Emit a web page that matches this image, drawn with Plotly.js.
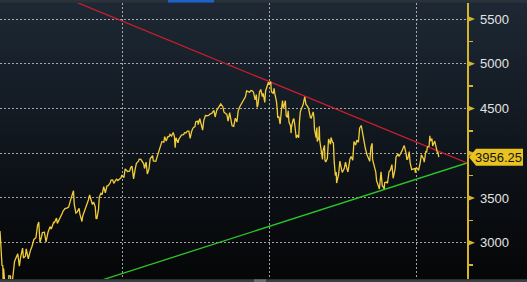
<!DOCTYPE html>
<html><head><meta charset="utf-8">
<script src="https://cdn.plot.ly/plotly-3.0.1.min.js"></script>
<style>
html,body{margin:0;padding:0;background:#000;}
#chart{width:527px;height:282px;background:linear-gradient(to bottom,#1e2935 0%,#141c25 35%,#0a0d11 75%,#050607 100%);}
</style>
</head><body><div id="chart"></div>
<script>
const dates = [
"2020-03-04","2020-03-05","2020-03-06","2020-03-09","2020-03-11","2020-03-12","2020-03-13","2020-03-16","2020-03-18","2020-03-20",
"2020-03-23","2020-03-24","2020-03-26","2020-03-30","2020-04-01","2020-04-06","2020-04-09","2020-04-14","2020-04-17","2020-04-21",
"2020-04-24","2020-04-29","2020-05-01","2020-05-06","2020-05-08","2020-05-13","2020-05-15","2020-05-19","2020-05-22","2020-05-27",
"2020-06-01","2020-06-05","2020-06-08","2020-06-11","2020-06-15","2020-06-17","2020-06-22","2020-06-26","2020-07-01","2020-07-06",
"2020-07-09","2020-07-15","2020-07-17","2020-07-22","2020-07-24","2020-07-29","2020-07-31","2020-08-05","2020-08-07","2020-08-12",
"2020-08-18","2020-08-21","2020-08-26","2020-08-28","2020-09-02","2020-09-04","2020-09-08","2020-09-11","2020-09-16","2020-09-18",
"2020-09-23","2020-09-25","2020-09-30","2020-10-05","2020-10-09","2020-10-12","2020-10-15","2020-10-19","2020-10-22","2020-10-26",
"2020-10-28","2020-10-30","2020-11-03","2020-11-05","2020-11-09","2020-11-12","2020-11-16","2020-11-20","2020-11-24","2020-11-27",
"2020-12-02","2020-12-04","2020-12-08","2020-12-11","2020-12-16","2020-12-18","2020-12-21","2020-12-24","2020-12-29","2020-12-31",
"2021-01-05","2021-01-08","2021-01-12","2021-01-14","2021-01-19","2021-01-22","2021-01-25","2021-01-27","2021-01-29","2021-02-02",
"2021-02-05","2021-02-10","2021-02-12","2021-02-16","2021-02-19","2021-02-23","2021-02-25","2021-03-01","2021-03-04","2021-03-08",
"2021-03-11","2021-03-15","2021-03-17","2021-03-19","2021-03-23","2021-03-25","2021-03-29","2021-04-01","2021-04-06","2021-04-09",
"2021-04-14","2021-04-16","2021-04-20","2021-04-23","2021-04-27","2021-04-29","2021-05-03","2021-05-07","2021-05-10","2021-05-12",
"2021-05-14","2021-05-19","2021-05-21","2021-05-26","2021-05-28","2021-06-02","2021-06-04","2021-06-08","2021-06-11","2021-06-15",
"2021-06-18","2021-06-22","2021-06-25","2021-06-30","2021-07-02","2021-07-07","2021-07-08","2021-07-12","2021-07-16","2021-07-19",
"2021-07-22","2021-07-26","2021-07-29","2021-08-03","2021-08-06","2021-08-11","2021-08-16","2021-08-19","2021-08-23","2021-08-27",
"2021-08-31","2021-09-02","2021-09-07","2021-09-10","2021-09-14","2021-09-17","2021-09-20","2021-09-24","2021-09-28","2021-09-30",
"2021-10-04","2021-10-06","2021-10-08","2021-10-12","2021-10-15","2021-10-19","2021-10-22","2021-10-26","2021-10-29","2021-11-02",
"2021-11-05","2021-11-09","2021-11-12","2021-11-16","2021-11-19","2021-11-22","2021-11-26","2021-11-29","2021-12-01","2021-12-03",
"2021-12-07","2021-12-10","2021-12-14","2021-12-16","2021-12-20","2021-12-22","2021-12-27","2021-12-29","2021-12-31",
"2022-01-03","2022-01-04","2022-01-05","2022-01-07","2022-01-10","2022-01-12","2022-01-14","2022-01-18","2022-01-20","2022-01-21",
"2022-01-24","2022-01-26","2022-01-27","2022-01-31","2022-02-02","2022-02-04","2022-02-09","2022-02-11","2022-02-14","2022-02-16",
"2022-02-18","2022-02-22","2022-02-23","2022-02-24","2022-02-28","2022-03-02","2022-03-04","2022-03-07","2022-03-08","2022-03-11",
"2022-03-14","2022-03-16","2022-03-18","2022-03-22","2022-03-25","2022-03-29","2022-04-01","2022-04-05","2022-04-08","2022-04-12",
"2022-04-14","2022-04-19","2022-04-21","2022-04-22","2022-04-26","2022-04-28","2022-04-29","2022-05-03","2022-05-04","2022-05-05",
"2022-05-09","2022-05-11","2022-05-12","2022-05-13","2022-05-17","2022-05-18","2022-05-20","2022-05-24","2022-05-26","2022-05-27",
"2022-06-01","2022-06-02","2022-06-06","2022-06-08","2022-06-10","2022-06-13","2022-06-15","2022-06-16","2022-06-21","2022-06-24",
"2022-06-28","2022-06-30","2022-07-05","2022-07-08","2022-07-12","2022-07-14","2022-07-19","2022-07-22","2022-07-26","2022-07-29",
"2022-08-02","2022-08-05","2022-08-09","2022-08-12","2022-08-16","2022-08-19","2022-08-22","2022-08-26","2022-08-30","2022-09-01",
"2022-09-06","2022-09-09","2022-09-12","2022-09-13","2022-09-16","2022-09-21","2022-09-23","2022-09-27","2022-09-30","2022-10-04",
"2022-10-07","2022-10-12","2022-10-13","2022-10-17","2022-10-20","2022-10-24","2022-10-27","2022-10-31","2022-11-03","2022-11-08",
"2022-11-10","2022-11-15","2022-11-18","2022-11-22","2022-11-25","2022-11-30","2022-12-01","2022-12-05","2022-12-07","2022-12-09",
"2022-12-13","2022-12-15","2022-12-19","2022-12-22","2022-12-27","2022-12-28","2022-12-30",
"2023-01-03","2023-01-05","2023-01-09","2023-01-12","2023-01-18","2023-01-19","2023-01-23","2023-01-25","2023-01-27","2023-01-31",
"2023-02-02","2023-02-03","2023-02-07","2023-02-09","2023-02-14","2023-02-16","2023-02-21","2023-02-22","2023-02-24"
];
const prices = [
3130,3023,2972,2746,2741,2480,2711,2386,2398,2305,
2237,2447,2630,2627,2470,2664,2790,2846,2875,2737,
2837,2939,2830,2848,2930,2820,2864,2922,2955,3036,
3055,3194,3232,3002,3067,3113,3117,3009,3116,3179,
3152,3227,3225,3276,3216,3258,3271,3327,3351,3380,
3389,3397,3478,3508,3580,3427,3331,3341,3385,3319,
3237,3298,3363,3408,3477,3534,3483,3427,3453,3400,
3271,3270,3369,3510,3550,3537,3626,3557,3635,3638,
3669,3699,3702,3663,3701,3709,3694,3703,3727,3756,
3727,3825,3801,3796,3799,3841,3855,3751,3714,3826,
3887,3910,3934,3932,3907,3881,3829,3901,3768,3821,
3939,3969,3974,3913,3910,3909,3971,4020,4074,4129,
4124,4185,4135,4180,4187,4211,4192,4232,4189,4063,
4173,4116,4156,4195,4204,4208,4230,4227,4247,4246,
4166,4246,4281,4298,4352,4358,4320,4385,4327,4258,
4368,4422,4419,4423,4437,4447,4479,4405,4479,4509,
4523,4550,4520,4458,4443,4433,4358,4455,4353,4307,
4300,4363,4391,4350,4471,4520,4545,4574,4605,4630,
4697,4685,4682,4701,4698,4682,4595,4655,4513,4538,
4686,4712,4634,4668,4568,4696,4791,4793,4766,
4796,4793,4700,4677,4670,4726,4663,4577,4483,4398,
4410,4350,4326,4516,4589,4500,4587,4419,4401,4475,
4349,4305,4225,4288,4374,4387,4329,4201,4170,4204,
4173,4358,4463,4512,4543,4631,4545,4525,4488,4397,
4392,4462,4393,4272,4175,4287,4132,4175,4300,4147,
3991,3935,3930,4023,4088,3923,3901,3941,4057,4158,
4101,4176,4121,4116,3900,3750,3790,3667,3765,3912,
3821,3785,3831,3899,3819,3790,3937,3962,3921,4130,
4091,4145,4122,4280,4310,4228,4138,4058,3986,3967,
3909,4067,4110,3932,3873,3790,3693,3648,3600,3791,
3640,3602,3670,3677,3665,3798,3807,3872,3720,3828,
3956,3992,3965,4003,4026,4085,4076,3999,3933,3934,
4019,3895,3817,3822,3829,3783,3840,
3824,3808,3892,3983,3929,3899,4019,4016,4070,4077,
4195,4136,4164,4081,4136,4090,3997,4012,3956.25
];
const trendDates = ["2020-03-04","2023-05-05"];
const upperTrend = [6039, 3891];
const lowerTrend = [2217, 3891];
const xRange = ["2020-03-04","2023-05-05"];
const yRange = [2594, 5679];
const yTicks = [3000,3500,4000,4500,5000,5500];
// the 4000 label sits under the last-price tag in the reference
const yTickText = ["3000","3500","","4500","5000","5500"];
const yMinor = [2750,3250,3750,4250,4750,5250];
const xGrid = ["2021-01-01","2022-01-01","2023-01-01"];

const lastPrice = prices[prices.length-1];
const axisYellow = '#d6b52a';
const plotW = 527 - 60;
const px = 1/plotW;
const dataPerPx = (yRange[1]-yRange[0]) / (282-6);

const shapes = [];
yTicks.forEach(v => {
  const h = 3.2*dataPerPx;
  shapes.push({type:'path', xref:'paper', yref:'y', layer:'above',
    path:`M 1,${v+h} L ${1+8*px},${v} L 1,${v-h} Z`,
    fillcolor:axisYellow, line:{width:0}});
});
{
  const h = 8.5*dataPerPx;
  shapes.push({type:'path', xref:'paper', yref:'y', layer:'above',
    path:`M ${1+2*px},${lastPrice} L ${1+9*px},${lastPrice+h} L ${1+56*px},${lastPrice+h} L ${1+56*px},${lastPrice-h} L ${1+9*px},${lastPrice-h} Z`,
    fillcolor:'#e9c420', line:{width:0}});
}
const pyPx = 1/(282-6);
shapes.push({type:'rect', xref:'paper', yref:'paper', layer:'above', x0:0, x1:527*px, y0:1+0.6*pyPx, y1:1+3*pyPx, fillcolor:'#2c323a', line:{width:0}});
shapes.push({type:'rect', xref:'paper', yref:'paper', layer:'above', x0:168*px, x1:214*px, y0:1+0.6*pyPx, y1:1+3*pyPx, fillcolor:'#1f62c9', line:{width:0}});
shapes.push({type:'rect', xref:'paper', yref:'paper', layer:'above', x0:0, x1:527*px, y0:-3*pyPx, y1:-0.3*pyPx, fillcolor:'#3a3f45', line:{width:0}});
shapes.push({type:'rect', xref:'paper', yref:'paper', layer:'above', x0:254*px, x1:266*px, y0:-3*pyPx, y1:-0.3*pyPx, fillcolor:'#6a6e72', line:{width:0}});

const traces = [
  {x:trendDates, y:lowerTrend, type:'scatter', mode:'lines', line:{color:'#2bc42b', width:1.3}, hoverinfo:'skip'},
  {x:trendDates, y:upperTrend, type:'scatter', mode:'lines', line:{color:'#c81e2c', width:1.3}, hoverinfo:'skip'},
  {x:dates, y:prices, type:'scatter', mode:'lines', line:{color:'#f2cd3a', width:1.3}, hoverinfo:'skip'}
];

const layout = {
  width:527, height:282,
  margin:{l:0, r:60, t:3, b:3, pad:0},
  paper_bgcolor:'rgba(0,0,0,0)', plot_bgcolor:'rgba(0,0,0,0)',
  showlegend:false,
  xaxis:{type:'date', range:xRange, tickvals:xGrid, showticklabels:false, ticks:'',
    showgrid:true, gridcolor:'rgba(215,215,215,0.75)', griddash:'2px,2px', gridwidth:1,
    zeroline:false, showline:false, fixedrange:true},
  yaxis:{side:'right', range:yRange, tickvals:yTicks, ticktext:yTickText, ticks:'', showline:true,
    linecolor:axisYellow, linewidth:1.5,
    showgrid:true, gridcolor:'rgba(215,215,215,0.75)', griddash:'2px,2px', gridwidth:1,
    zeroline:false, ticklabelstandoff:9,
    tickfont:{family:'Liberation Sans, Arial, sans-serif', size:13, color:'#e4e4e4'},
    minor:{tickvals:yMinor, ticks:'outside', ticklen:4, tickwidth:1.5, tickcolor:axisYellow, showgrid:false},
    fixedrange:true},
  shapes:shapes,
  annotations:[{xref:'paper', yref:'y', x:1+6*px, y:lastPrice, xanchor:'left', yanchor:'middle',
    text:String(lastPrice), showarrow:false,
    font:{family:'Liberation Sans, Arial, sans-serif', size:13, color:'#141414'}}]
};
Plotly.newPlot('chart', traces, layout, {staticPlot:true, displayModeBar:false});
</script></body></html>
